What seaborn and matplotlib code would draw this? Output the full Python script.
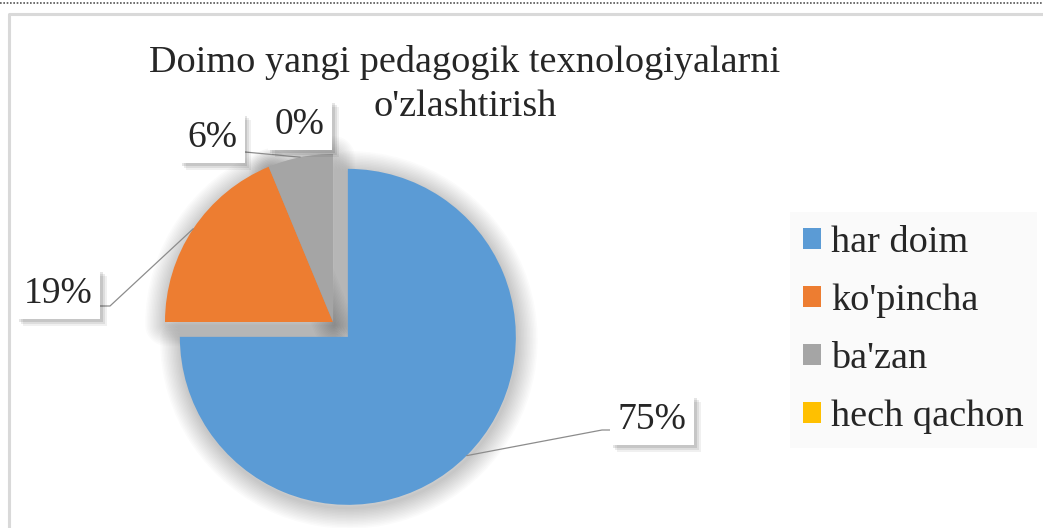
import matplotlib
matplotlib.use("Agg")
import matplotlib.pyplot as plt
import matplotlib.patheffects as pe
from matplotlib.patches import Wedge
import seaborn as sns
import numpy as np

# data
categories = ["har doim", "ko'pincha", "ba'zan", "hech qachon"]
counts = [12, 3, 1, 0]
pct_labels = ["75%", "19%", "6%", "0%"]
title_lines = ["Doimo yangi pedagogik texnologiyalarni", "o'zlashtirish"]

W, H = 1043, 528
R = 168

sns.set_theme(style="white")
plt.rcParams['font.family'] = ['Liberation Serif', 'DejaVu Serif']
palette = sns.color_palette(["#5B9BD5", "#ED7D31", "#A5A5A5", "#FFC000"])

fig = plt.figure(figsize=(W / 100, H / 100), dpi=100)
ax = fig.add_axes([0, 0, 1, 1])


def py(y):
    # pixel row (from top) -> data y
    return H - y


wedges, _ = ax.pie(counts, colors=palette, startangle=90, counterclock=False,
                   explode=[0.125 * R, 0, 0, 0], center=(333, py(322)), radius=R,
                   wedgeprops={'zorder': 3, 'linewidth': 0})

# soft shadow around the slices
for w, v in zip(wedges, counts):
    if v == 0:
        continue
    cx, cy = w.center
    for lw in np.linspace(2, 30, 14):
        sh = Wedge((cx + 1, cy - 3), w.r, w.theta1, w.theta2, facecolor='none',
                   edgecolor=(0, 0, 0, 0.014), linewidth=lw, joinstyle='round', zorder=2)
        ax.add_patch(sh)

# data labels with leader lines
label_pos = [(652, 420), (58, 294), (212, 138), (300, 125)]
for i, (w, txt, (lx, ly)) in enumerate(zip(wedges, pct_labels, label_pos)):
    t = ax.text(lx, py(ly), txt, ha='center', va='center', fontsize=27, zorder=6,
                bbox=dict(boxstyle='square,pad=0.2', facecolor='white', edgecolor='none'))
    t.get_bbox_patch().set_path_effects([
        pe.SimplePatchShadow(offset=(5, -5), shadow_rgbFace='#000000', alpha=0.06),
        pe.SimplePatchShadow(offset=(3.5, -3.5), shadow_rgbFace='#000000', alpha=0.08),
        pe.SimplePatchShadow(offset=(2, -2), shadow_rgbFace='#000000', alpha=0.1),
        pe.Normal()])
    if counts[i] == 0:
        continue
    mid = np.deg2rad((w.theta1 + w.theta2) / 2)
    cx, cy = w.center
    ax_, ay_ = cx + w.r * np.cos(mid), cy + w.r * np.sin(mid)
    if i == 0:
        xs, ys = [ax_, lx - 50, lx - 42], [ay_, py(ly + 10), py(ly + 10)]
    elif i == 1:
        xs, ys = [ax_, lx + 52, lx + 42], [ay_, py(ly + 12), py(ly + 12)]
    else:
        xs, ys = [ax_, lx + 33], [ay_, py(ly + 14)]
    ax.plot(xs, ys, color='#8c8c8c', lw=0.9, zorder=5)

for line, y in zip(title_lines, [62, 107]):
    ax.text(465, py(y), line, ha='center', va='center', fontsize=27.5, zorder=6)

leg = ax.legend(wedges, categories, loc='upper left',
                bbox_to_anchor=(790 / W, 1 - 212 / H), bbox_transform=fig.transFigure,
                borderaxespad=0, frameon=True, facecolor='#fafafa', edgecolor='none',
                fancybox=False, framealpha=1, fontsize=27.5, handlelength=0.47,
                handleheight=0.47, handletextpad=0.26, labelspacing=0.62, borderpad=0.35)

# chart frame and dotted top line
ax.plot([9, 9, W], [0, py(14), py(14)], color='#d9d9d9', lw=2.2, clip_on=False, zorder=1)
ax.plot([0, W], [py(3), py(3)], color='#555555', lw=1.2, ls=(0, (1, 1)), clip_on=False)

ax.set_xlim(0, W)
ax.set_ylim(0, H)
ax.set_axis_off()

plt.savefig('out.png', dpi=100)
